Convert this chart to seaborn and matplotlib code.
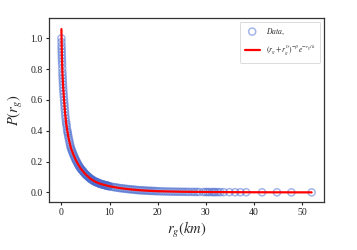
import matplotlib
matplotlib.use("Agg")
import matplotlib.pyplot as plt
import seaborn as sns
import pandas as pd

# observed data (r_g in km, P(r_g))
data_x = [0.00, 0.03, 0.06, 0.10, 0.14, 0.20, 0.26, 0.33, 0.40, 0.50, 0.60, 0.70, 0.80, 0.95,
          1.10, 1.25, 1.40, 1.60, 1.80, 2.00, 2.25, 2.50, 2.75, 3.00, 3.25, 3.50, 3.75, 4.00,
          4.25, 4.50, 4.75, 5.00, 5.25, 5.50, 5.75, 6.00, 6.25, 6.50, 6.75, 7.00, 7.25, 7.50,
          7.75, 8.00, 8.25, 8.50, 8.75, 9.00, 9.25, 9.50, 9.75, 10.0, 10.4, 10.8, 11.2, 11.6,
          12.0, 12.4, 12.8, 13.2, 13.6, 14.0, 14.4, 14.8, 15.2, 15.6, 16.0, 16.4, 16.8, 17.2,
          17.6, 18.0, 18.4, 18.8, 19.2, 19.6, 20.0, 20.5, 21.0, 21.5, 22.0, 22.5, 23.0, 23.5,
          24.0, 24.5, 25.0, 25.5, 26.0, 26.5, 27.1, 27.6, 28.1, 28.6, 29.5, 30.0, 30.4, 30.8,
          31.3, 31.7, 32.0, 32.5, 33.0, 33.7, 34.9, 36.1, 37.2, 38.4, 41.7, 44.8, 47.8, 52.0]
data_y = [1.00, 0.95, 0.91, 0.87, 0.83, 0.78, 0.74, 0.70, 0.66, 0.62, 0.58, 0.54, 0.50, 0.46,
          0.43, 0.395, 0.37, 0.34, 0.31, 0.285, 0.265, 0.245, 0.227, 0.21, 0.195, 0.18, 0.167, 0.155,
          0.146, 0.137, 0.127, 0.118, 0.111, 0.104, 0.097, 0.090, 0.085, 0.080, 0.075, 0.070, 0.067, 0.064,
          0.060, 0.057, 0.055, 0.052, 0.050, 0.048, 0.046, 0.044, 0.042, 0.040, 0.037, 0.035, 0.033, 0.031,
          0.029, 0.027, 0.026, 0.024, 0.023, 0.021, 0.020, 0.019, 0.018, 0.016, 0.015, 0.014, 0.0135, 0.013,
          0.012, 0.011, 0.0105, 0.010, 0.0095, 0.0088, 0.008, 0.0075, 0.007, 0.0065, 0.006, 0.0057, 0.0054, 0.005,
          0.0048, 0.0046, 0.0044, 0.0042, 0.004, 0.0038, 0.0036, 0.0034, 0.0032, 0.003, 0.0028, 0.0027, 0.0026, 0.0025,
          0.0024, 0.0023, 0.0022, 0.0021, 0.002, 0.0019, 0.0017, 0.0015, 0.0014, 0.0013, 0.001, 0.0008, 0.0006, 0.0005]

# further observed points in the dense part of the distribution
data_x2 = [0.015, 0.045, 0.08, 0.12, 0.17, 0.23, 0.29, 0.36, 0.45, 0.55, 0.65, 0.75, 0.87, 1.02,
           1.17, 1.32, 1.50, 1.70, 1.90, 2.12, 2.37, 2.62, 2.87, 3.12, 3.37, 3.62, 3.87, 4.12,
           4.37, 4.62, 4.87, 5.12, 5.37, 5.62, 5.87, 6.12, 6.37, 6.62, 6.87, 7.12, 7.37, 7.62,
           7.87, 8.12, 8.37, 8.62, 8.87, 9.12, 9.37, 9.62, 9.87]
data_y2 = [0.975, 0.93, 0.89, 0.85, 0.805, 0.76, 0.72, 0.68, 0.64, 0.60, 0.56, 0.52, 0.48, 0.445,
           0.41, 0.385, 0.355, 0.325, 0.297, 0.275, 0.255, 0.236, 0.218, 0.202, 0.187, 0.173, 0.161, 0.150,
           0.141, 0.132, 0.122, 0.114, 0.107, 0.100, 0.093, 0.087, 0.082, 0.077, 0.072, 0.068, 0.065, 0.062,
           0.058, 0.056, 0.053, 0.051, 0.049, 0.047, 0.045, 0.043, 0.041]

# fitted curve (r_g + r_g^0)^-beta exp(-r_g/k)
fit_x = [0.0, 0.1, 0.2, 0.35, 0.5, 0.75, 1.0, 1.25, 1.5, 2.0, 2.5, 3.0, 3.5, 4.0, 5.0, 6.0,
         7.0, 8.0, 9.0, 10.0, 12.0, 14.0, 16.0, 18.0, 20.0, 25.0, 30.0, 35.0, 40.0, 45.0, 52.0]
fit_y = [1.06, 0.88, 0.78, 0.69, 0.62, 0.52, 0.445, 0.395, 0.35, 0.285, 0.245, 0.21, 0.18, 0.155,
         0.118, 0.09, 0.07, 0.057, 0.048, 0.04, 0.029, 0.021, 0.015, 0.011, 0.008, 0.0045, 0.0028,
         0.0018, 0.0012, 0.0008, 0.0005]

x_ticks = [0, 10, 20, 30, 40, 50]
y_ticks = [0.0, 0.2, 0.4, 0.6, 0.8, 1.0]

sns.set_style("ticks")
plt.rcParams["font.family"] = ["Liberation Serif", "DejaVu Serif"]
plt.rcParams["mathtext.fontset"] = "stix"

df_data = pd.DataFrame({"r": data_x + data_x2, "p": data_y + data_y2})
df_fit = pd.DataFrame({"r": fit_x, "p": fit_y})

fig = plt.figure(figsize=(3.57, 2.50), dpi=100)
ax = fig.add_axes([0.137, 0.192, 0.771, 0.736])

sns.scatterplot(data=df_data, x="r", y="p", ax=ax, marker="o", s=26,
                facecolors="none", edgecolor="#4a6ccf", linewidth=1.1, alpha=0.5,
                label="$Data,$", zorder=2)
sns.lineplot(data=df_fit, x="r", y="p", ax=ax, color="red", linewidth=1.6,
             label=r"$(r_g+r_g^0)^{-\beta}e^{-r_g/k}$", zorder=3)

ax.set_xlim(-2.6, 54.6)
ax.set_ylim(-0.062, 1.132)
ax.set_xticks(x_ticks)
ax.set_yticks(y_ticks)
ax.set_xticklabels([str(t) for t in x_ticks])
ax.set_yticklabels([f"{t:.1f}" for t in y_ticks])
ax.tick_params(axis="both", labelsize=7, length=2.5, width=0.8, pad=2, colors="#222222")
for sp in ax.spines.values():
    sp.set_linewidth(0.9)
    sp.set_color("#333333")

ax.set_xlabel("$r_g(km)$", fontsize=10.5, labelpad=2)
ax.set_ylabel("$P(r_g)$", fontsize=10.5, labelpad=4)

leg = ax.legend(loc="upper right", fontsize=5.5, frameon=True, borderpad=0.6,
                handlelength=2.0, labelspacing=0.8)
leg.get_frame().set_linewidth(0.6)

fig.savefig("out.png", dpi=100)
